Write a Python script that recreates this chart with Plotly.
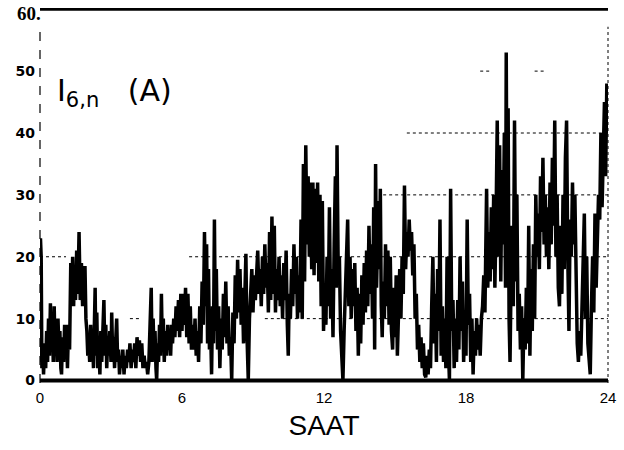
import plotly.graph_objects as go

# Time of day (hours, "SAAT") and current I_6,n (A)
hours = [
 0.00,0.02,0.05,0.08,0.12,0.15,0.20,0.24,0.28,0.32,0.36,0.40,0.44,0.48,0.52,0.56,0.60,0.64,0.68,0.72,0.76,0.80,0.84,0.88,0.91,0.95,
 1.00,1.04,1.08,1.12,1.16,1.20,1.25,1.30,1.34,1.38,1.42,1.46,1.50,1.55,1.60,1.65,1.70,1.75,1.80,1.85,1.90,1.94,1.98,
 2.02,2.06,2.10,2.14,2.18,2.22,2.26,2.30,2.33,2.36,2.40,2.44,2.48,2.53,2.57,2.61,2.66,2.70,2.74,2.78,2.82,2.86,2.90,2.95,
 3.00,3.03,3.07,3.11,3.15,3.20,3.24,3.28,3.32,3.36,3.41,3.45,3.50,3.55,3.60,3.65,3.70,3.75,3.80,3.85,3.90,3.95,
 4.00,4.05,4.10,4.15,4.20,4.25,4.30,4.35,4.40,4.45,4.50,4.55,4.60,4.65,4.70,4.74,4.78,4.82,4.86,4.90,4.93,4.97,
 5.01,5.05,5.09,5.13,5.17,5.21,5.25,5.30,5.35,5.40,5.44,5.48,5.52,5.56,5.60,5.65,5.70,5.75,5.80,5.85,5.90,5.95,
 6.00,6.05,6.10,6.15,6.20,6.25,6.30,6.35,6.40,6.45,6.50,6.55,6.60,6.65,6.70,6.75,6.80,6.85,6.90,6.95,
 7.00,7.04,7.08,7.12,7.16,7.20,7.25,7.29,7.33,7.37,7.41,7.45,7.50,7.55,7.60,7.65,7.70,7.75,7.80,7.85,7.90,7.95,
 8.00,8.05,8.10,8.15,8.20,8.25,8.30,8.35,8.40,8.45,8.50,8.55,8.60,8.65,8.70,8.74,8.80,8.85,8.90,8.95,
 9.00,9.05,9.10,9.15,9.20,9.25,9.30,9.35,9.40,9.45,9.50,9.55,9.60,9.65,9.70,9.75,9.80,9.85,9.90,9.95,
 10.00,10.05,10.10,10.15,10.20,10.25,10.30,10.35,10.40,10.45,10.49,10.53,10.58,10.63,10.68,10.73,10.78,10.83,10.88,10.93,10.98,
 11.03,11.08,11.13,11.18,11.23,11.28,11.33,11.38,11.43,11.48,11.53,11.58,11.63,11.68,11.73,11.78,11.83,11.88,11.93,11.98,
 12.03,12.08,12.13,12.18,12.23,12.28,12.33,12.38,12.43,12.48,12.52,12.55,12.60,12.65,12.70,12.75,12.80,12.85,12.90,12.95,
 13.00,13.05,13.10,13.15,13.20,13.25,13.30,13.35,13.40,13.45,13.50,13.55,13.60,13.65,13.70,13.75,13.80,13.85,13.90,13.95,
 14.00,14.05,14.10,14.14,14.18,14.22,14.26,14.30,14.34,14.38,14.42,14.46,14.50,14.55,14.60,14.65,14.70,14.75,14.80,14.85,14.90,14.95,
 15.00,15.05,15.10,15.15,15.20,15.25,15.30,15.35,15.40,15.45,15.50,15.55,15.60,15.65,15.70,15.75,15.80,15.85,15.90,15.95,
 16.00,16.05,16.10,16.15,16.20,16.25,16.30,16.35,16.40,16.45,16.50,16.55,16.60,16.65,16.70,16.75,16.80,16.85,16.90,16.95,
 17.00,17.05,17.10,17.15,17.20,17.25,17.30,17.35,17.40,17.45,17.50,17.55,17.60,17.65,17.70,17.75,17.80,17.85,17.90,17.95,
 18.00,18.05,18.10,18.15,18.20,18.25,18.30,18.35,18.40,18.45,18.50,18.55,18.60,18.65,18.70,18.75,18.80,18.87,18.92,18.97,
 19.02,19.07,19.12,19.17,19.22,19.27,19.32,19.37,19.42,19.47,19.52,19.57,19.62,19.67,19.70,19.74,19.78,19.82,19.86,19.90,19.95,
 20.00,20.05,20.10,20.15,20.20,20.25,20.30,20.35,20.40,20.45,20.50,20.55,20.60,20.65,20.70,20.75,20.80,20.85,20.90,20.95,
 21.00,21.05,21.10,21.15,21.20,21.25,21.30,21.35,21.40,21.45,21.50,21.55,21.60,21.65,21.70,21.75,21.80,21.85,21.90,21.95,
 22.00,22.05,22.10,22.15,22.20,22.25,22.30,22.35,22.40,22.45,22.50,22.55,22.60,22.65,22.70,22.75,22.80,22.85,22.90,22.95,
 23.00,23.05,23.10,23.15,23.20,23.25,23.30,23.35,23.40,23.45,23.50,23.55,23.60,23.65,23.70,23.75,23.80,23.85,23.90,23.95,24.00,
]
current = [
 3,23,20,2,5,1,6,2,8,3,10,4,12.5,5,11,3,12,4,9,3,10,5,8,2,1,7,
 3,9,4,9,2,8,5,19,13,20,12,18,13,21,14,24,13,19,12,17,18.5,10,8,
 4,6,3,9,4,7,2,12,15,4,11,2,6,1,8,3,10,13,4,9,2,7,4,8,
 3,11,4,7,2,6,10,3,5,1,4,2,5,1,4,2,5,3,6,2,5,3,
 6,2,7,4,6.5,3,6,2,4,2,3,1,3,9,15,3,10,4,8,2,0,6,
 3,9,4,14,5,10,3,8,4,9,5,8,4,9,6,10,7,12,8,13,7,14,
 8,14,9,15,7,14,6,12,5,9,5,10,4,8,3,12,6,16,9,24,
 12,22,6,18,5,10,1,12,6,26,8,18,5,12,2,10,5,14,7,16,6,12,
 4,7,0,11,6,17,10,19.5,11,18,9,15,6,13,20.5,8,0,10,13,18,
 11,17,13,19,21,14,18,12,20,14,22,15,19,11,24,13,26.5,14,25,11,
 18,13,20,12,17,10,19,13,21,9,4,14,10,18,12,22,14,20,10,17,11,
 26,10,35,16,38,22,33,20,32,18,32,17,31,19,32,16,30,12,29,8,
 14,9,20,12,28,10,18,7,22,33,15,38,18,20,8,4,0,8,14,22,
 26,12,20,10,18,12,19,8,15,4,14,6,17,9,19,11,21,12,25,14,
 22,10,28,5,35,15,24,29,18,31,12,7,16,10,22,12,21,9,20,8,5,15,
 7,17,4,12,18,10,20,14,31.5,18,24,20,26,21,24,17,22,10,14,5,
 9,3,7,2,6,1,0.5,4,1,5,2,12,20,6,14,3,18,8,26,4,
 12,3,10,2,20,6,0,31,8,13,2,10,3,13,5,20,8,16,3,10,
 4,26,9,14,3,10,1,8,4,10,5,9,4,10,12,17,11,31,15,24,
 16,28,18,30,15,26,42,20,38,16,34,22,40,15,53,20,44,10,3,15,25,
 12,42,16,30,8,14,5,12,0,10,5,15,6,25,4,18,8,22,10,30,
 20,27,18,33,24,36,22,30,20,28,18,32,22,36,25,42,20,30,15,12,
 25,14,30,18,36,42,20,8,26,20,32,22,30,14,6,3,8,4,12,18,
 27,10,20,6,3,1,12,20,11,27,15,24,30,26,40,28,35,45,33,48,40,
]

y_tick_vals = [0, 10, 20, 30, 40, 50]
y_tick_text = ["0", "10", "20", "30", "40", "50"]
x_tick_vals = [0, 6, 12, 18, 24]
x_tick_text = ["0", "6", "12", "18", "24"]

# partial dotted grid lines seen on the scan: (level, start hour, end hour)
grid_levels = [40, 30, 20, 20, 10, 10, 50, 50]
grid_starts = [15.5, 14.5, 0.0, 6.3, 3.8, 9.5, 18.6, 20.9]
grid_ends = [24.0, 24.0, 1.1, 24.0, 4.2, 24.0, 19.0, 21.4]

fig = go.Figure()
fig.add_trace(go.Scatter(
    x=hours, y=current, mode="lines",
    line=dict(color="black", width=3.5),
    hoverinfo="skip", showlegend=False,
))

for lvl, s, e in zip(grid_levels, grid_starts, grid_ends):
    fig.add_shape(type="line", xref="x", yref="y", x0=s, x1=e, y0=lvl, y1=lvl,
                  line=dict(color="black", width=1, dash="dot"), layer="below")

# thick frame lines at top (60) and bottom (0)
fig.add_shape(type="line", xref="paper", yref="y", x0=0, x1=1, y0=60, y1=60,
              line=dict(color="black", width=3))
fig.add_shape(type="line", xref="paper", yref="y", x0=0, x1=1, y0=0, y1=0,
              line=dict(color="black", width=4))
# thin dashed side borders
fig.add_shape(type="line", xref="paper", yref="paper", x0=0, x1=0, y0=0, y1=0.95,
              line=dict(color="black", width=1.2, dash="dash"))
fig.add_shape(type="line", xref="paper", yref="paper", x0=1, x1=1, y0=0, y1=0.95,
              line=dict(color="black", width=1, dash="dot"))

fig.update_layout(
    width=624, height=450,
    margin=dict(l=40, r=12, t=8, b=67),
    paper_bgcolor="white", plot_bgcolor="white",
    font=dict(family="DejaVu Sans", color="black"),
    xaxis=dict(
        range=[0, 24], tickmode="array", tickvals=x_tick_vals, ticktext=x_tick_text,
        showgrid=False, zeroline=False, showline=False, ticks="",
        tickfont=dict(size=15, family="Liberation Sans"), ticklabelstandoff=4,
        title=dict(text="SAAT", font=dict(size=28, family="Liberation Sans"), standoff=10),
    ),
    yaxis=dict(
        range=[-0.4, 60.2], tickmode="array", tickvals=y_tick_vals, ticktext=y_tick_text,
        showgrid=False, zeroline=False, showline=False, ticks="",
        tickfont=dict(size=14, family="DejaVu Sans", weight="bold"), ticklabelstandoff=4,
    ),
)

fig.add_annotation(xref="paper", yref="y", x=0, y=60, xanchor="right", yanchor="middle",
                   text="<b>60.</b>", showarrow=False,
                   font=dict(size=19, family="Liberation Serif", color="black"), xshift=3, yshift=-4)
fig.add_annotation(xref="paper", yref="paper", x=0.026, y=0.775, xanchor="left", yanchor="middle",
                   text="I<sub>6,n</sub>\u00a0\u00a0\u00a0(A)", showarrow=False,
                   font=dict(size=30, family="DejaVu Sans", color="black"))

# remove the browser's default body margin and the inline-block baseline gap
page_fix = (
    "document.body.style.margin='0px';"
    "document.documentElement.style.overflow='hidden';"
    "document.body.style.overflow='hidden';"
    "document.querySelectorAll('.svg-container').forEach(function(e){e.style.display='block';});"
)
fig.write_html("out.html", post_script=page_fix, config={"displayModeBar": False})
